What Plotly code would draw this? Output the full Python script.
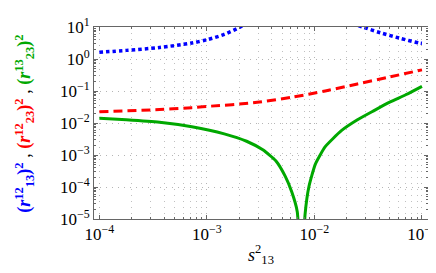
import plotly.graph_objects as go

# ---- data ----
s13_blue = [1.0e-4, 1.78e-4, 3.63e-4, 7.24e-4, 1.02e-3, 1.45e-3, 2.04e-3, 2.5e-3,
            None,
            0.0224, 0.028, 0.041, 0.0622, 0.0944, 0.1]
r13_12 = [1.62, 1.86, 2.29, 3.16, 4.07, 5.89, 10.0, 16.0,
          None,
          12.6, 10.0, 6.6, 4.47, 3.16, 3.09]

s13_red = [1.0e-4, 3.63e-4, 7.24e-4, 1.02e-3, 2.69e-3, 6.31e-3, 0.0126, 0.0251, 0.0501, 0.1]
r23_12 = [0.0224, 0.0263, 0.0302, 0.0331, 0.0427, 0.0646, 0.100, 0.166, 0.275, 0.457]

s13_green = [1.0e-4, 1.78e-4, 3.63e-4, 7.24e-4, 1.45e-3, 2.34e-3, 3.31e-3, 4.37e-3,
             5.37e-3, 6.17e-3, 6.92e-3, 7.6e-3, 8.18e-3, 8.91e-3, 0.0102, 0.0126,
             0.0178, 0.0251, 0.0355, 0.0501, 0.0714, 0.1]
r23_13 = [0.0141, 0.0126, 0.0105, 0.0076, 0.00457, 0.00269, 0.00145, 6.6e-4,
          2.1e-4, 6.8e-5, 1.7e-5, 1e-7, 1.4e-5, 1.07e-4, 5.2e-4, 1.82e-3,
          5.75e-3, 0.0126, 0.024, 0.0447, 0.0776, 0.14]

x_tickvals = [1e-4, 1e-3, 1e-2, 1e-1]
x_ticktext = ["10<sup>−4</sup>", "10<sup>−3</sup>", "10<sup>−2</sup>", "10<sup>−1</sup>"]
y_tickvals = [1e-5, 1e-4, 1e-3, 1e-2, 1e-1, 1, 10]
y_ticktext = ["10<sup>−5</sup>", "10<sup>−4</sup>", "10<sup>−3</sup>", "10<sup>−2</sup>",
              "10<sup>−1</sup>", "10<sup>0</sup>", "10<sup>1</sup>"]
minor_mult = [2, 3, 4, 5, 6, 7, 8, 9]
x_minor = [m * d for d in [1e-5, 1e-4, 1e-3, 1e-2, 1e-1] for m in minor_mult]
y_minor = [m * d for d in [1e-5, 1e-4, 1e-3, 1e-2, 1e-1, 1] for m in minor_mult]

FONT = "Liberation Serif"
GREEN = "#00a800"

fig = go.Figure()
fig.add_trace(go.Scatter(x=s13_blue, y=r13_12, mode="lines", connectgaps=False,
                         line=dict(color="#0000ff", width=3.5, dash="3.5px,3px",
                                   shape="spline", smoothing=0.8)))
fig.add_trace(go.Scatter(x=s13_red, y=r23_12, mode="lines",
                         line=dict(color="#ff0000", width=3, dash="9px,5px",
                                   shape="spline", smoothing=0.8)))
fig.add_trace(go.Scatter(x=s13_green, y=r23_13, mode="lines",
                         line=dict(color=GREEN, width=3, shape="spline", smoothing=0.5)))

axis_common = dict(
    type="log",
    showline=True, linecolor="#666666", linewidth=1, mirror="allticks",
    ticks="inside", ticklen=4, tickcolor="#666666",
    showgrid=True, gridcolor="#b5b5b5", griddash="1px,5px", gridwidth=1,
    zeroline=False, ticklabeloverflow="allow",
    tickfont=dict(family=FONT, size=17, color="black"),
)

fig.update_xaxes(**axis_common, range=[-4.05, -0.944],
                 tickmode="array", tickvals=x_tickvals, ticktext=x_ticktext,
                 minor=dict(tickmode="array", tickvals=x_minor, ticks="inside", ticklen=2,
                            tickcolor="#666666", showgrid=True, gridcolor="#c0c0c0",
                            griddash="1px,5px"),
                 title=dict(text="<i>s</i><sup>2</sup><sub>13</sub>",
                            font=dict(family=FONT, size=18, color="black"), standoff=4))
fig.update_yaxes(**axis_common, range=[-5, 1],
                 tickmode="array", tickvals=y_tickvals, ticktext=y_ticktext,
                 minor=dict(tickmode="array", tickvals=y_minor, ticks="inside", ticklen=2,
                            tickcolor="#666666", showgrid=False))

ytitle = ("<b>(<i>r</i><sup>12</sup><sub>13</sub>)<sup>2</sup></b>"
          "<span style='color:black'> , </span>"
          "<span style='color:#ff0000'><b>(<i>r</i><sup>12</sup><sub>23</sub>)<sup>2</sup></b></span>"
          "<span style='color:black'> , </span>"
          f"<span style='color:{GREEN}'><b>(<i>r</i><sup>13</sup><sub>23</sub>)<sup>2</sup></b></span>")
fig.add_annotation(text=ytitle, xref="paper", yref="paper", x=-0.21, y=0.5,
                   textangle=-90, showarrow=False, xanchor="center", yanchor="middle",
                   font=dict(family=FONT, size=18, color="#0000ff"))

fig.update_layout(
    width=436, height=273,
    margin=dict(l=86, r=7, t=9, b=62),
    plot_bgcolor="white", paper_bgcolor="white",
    showlegend=False,
)

fig.write_html("out.html")
